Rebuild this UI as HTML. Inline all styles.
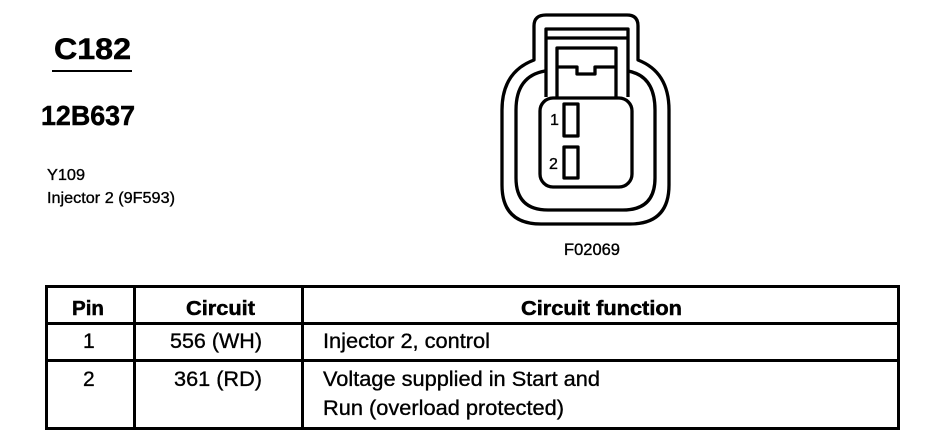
<!DOCTYPE html>
<html>
<head>
<meta charset="utf-8">
<style>
html,body{margin:0;padding:0;background:#fff;width:940px;height:448px;overflow:hidden}
svg{display:block}
text{font-family:"Liberation Sans",sans-serif;fill:#000;stroke:#000;stroke-width:.35}
.b{font-weight:bold;stroke-width:.5}
</style>
</head>
<body>
<svg width="940" height="448" viewBox="0 0 940 448" xmlns="http://www.w3.org/2000/svg">
<rect width="940" height="448" fill="#fff"/>
<text class="b" x="54" y="59" font-size="30" textLength="77" lengthAdjust="spacingAndGlyphs">C182</text>
<rect x="52" y="70" width="80" height="2"/>
<text class="b" x="41" y="125" font-size="28" textLength="94" lengthAdjust="spacingAndGlyphs">12B637</text>
<text x="47" y="180" font-size="15.5" textLength="38" lengthAdjust="spacingAndGlyphs">Y109</text>
<text x="47" y="203" font-size="16" textLength="128" lengthAdjust="spacingAndGlyphs">Injector 2 (9F593)</text>

<g fill="none" stroke="#000" stroke-width="3.3" stroke-linejoin="round">
<path d="M534 60V26Q534 15 546 15H627Q638 15 638 26V60Q669 72 669 110V185Q669 224 630 224H541Q502 224 502 185V110Q502 72 534 60Z"/>
<path d="M545 71Q516 76 516 110V178Q516 210 548 210H623Q655 210 655 178V110Q655 76 628 71"/>
<path d="M546 97V29H628V97"/>
<path d="M546 38H628"/>
<path d="M557 97V48H616V97"/>
<path d="M557 67H577V74H595V67H616"/>
<rect x="540" y="98" width="92" height="89" rx="13" ry="13"/>
<rect x="564" y="104" width="14" height="32"/>
<rect x="564" y="147" width="14" height="31"/>
</g>
<text x="550" y="125" font-size="16" stroke-width=".6">1</text>
<text x="549" y="169" font-size="16" stroke-width=".6">2</text>
<text x="564" y="255" font-size="16.5" textLength="56" lengthAdjust="spacingAndGlyphs">F02069</text>

<g shape-rendering="crispEdges">
<rect x="45" y="285" width="855" height="3"/>
<rect x="45" y="322" width="855" height="3"/>
<rect x="45" y="359" width="855" height="3"/>
<rect x="45" y="427" width="855" height="3"/>
<rect x="45" y="285" width="3" height="145"/>
<rect x="133" y="285" width="3" height="145"/>
<rect x="301" y="285" width="3" height="145"/>
<rect x="897" y="285" width="3" height="145"/>
</g>
<text class="b" x="72" y="315" font-size="20.5" textLength="32" lengthAdjust="spacingAndGlyphs">Pin</text>
<text class="b" x="186" y="315" font-size="20.5" textLength="69" lengthAdjust="spacingAndGlyphs">Circuit</text>
<text class="b" x="521" y="315" font-size="20.5" textLength="161" lengthAdjust="spacingAndGlyphs">Circuit function</text>
<text x="83" y="348" font-size="21">1</text>
<text x="170" y="348" font-size="21" textLength="92" lengthAdjust="spacingAndGlyphs">556 (WH)</text>
<text x="323" y="348" font-size="21" textLength="167" lengthAdjust="spacingAndGlyphs">Injector 2, control</text>
<text x="83" y="386" font-size="21">2</text>
<text x="174" y="386" font-size="21" textLength="88" lengthAdjust="spacingAndGlyphs">361 (RD)</text>
<text x="323" y="386" font-size="21" textLength="277" lengthAdjust="spacingAndGlyphs">Voltage supplied in Start and</text>
<text x="323" y="415" font-size="21" textLength="241" lengthAdjust="spacingAndGlyphs">Run (overload protected)</text>
</svg>
</body>
</html>
